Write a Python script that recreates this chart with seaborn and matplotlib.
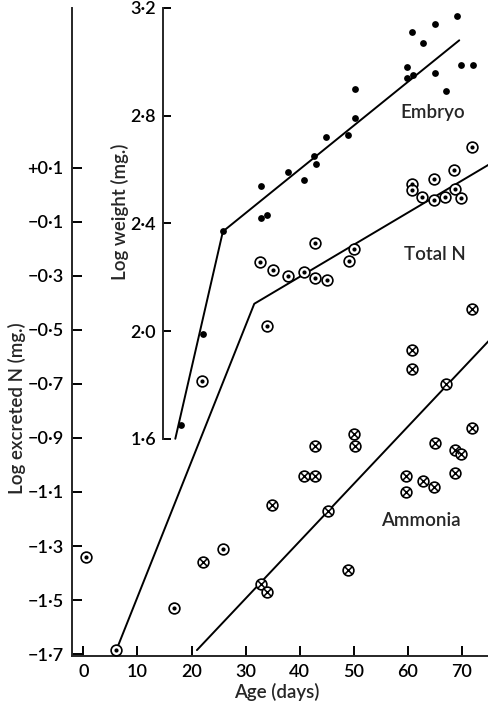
import matplotlib
matplotlib.use("Agg")
import matplotlib.pyplot as plt
import seaborn as sns
import pandas as pd

# ---------------- data ----------------
embryo_age = [18.0, 22.1, 25.8, 32.9, 32.9, 33.9, 37.8, 40.8, 42.7, 43.0, 44.8, 48.9,
              50.2, 50.2, 59.9, 59.9, 60.9, 60.7, 62.8, 65.0, 65.0, 67.1, 69.0, 69.9, 72.0]
embryo_logw = [1.65, 1.99, 2.37, 2.54, 2.42, 2.43, 2.59, 2.56, 2.65, 2.62, 2.72, 2.73,
               2.79, 2.90, 2.98, 2.94, 2.95, 3.11, 3.07, 3.14, 2.96, 2.89, 3.17, 2.99, 2.99]

totaln_age = [0.5, 6.1, 16.7, 21.9, 25.9, 32.7, 33.9, 35.1, 37.9, 40.8, 42.9, 42.9, 45.0,
              49.1, 50.0, 60.7, 60.7, 62.7, 64.8, 64.9, 66.9, 68.6, 68.8, 69.8, 71.8]
totaln_logn = [-1.34, -1.685, -1.53, -0.69, -1.31, -0.25, -0.485, -0.28, -0.30, -0.285,
               -0.18, -0.31, -0.315, -0.245, -0.20, 0.04, 0.016, -0.009, 0.059, -0.021,
               -0.009, 0.089, 0.019, -0.014, 0.175]

ammonia_age = [22.2, 32.9, 33.9, 34.9, 40.8, 42.9, 42.9, 45.3, 48.9, 50.1, 50.3, 59.7,
               59.7, 60.8, 60.8, 62.8, 64.8, 65.0, 67.1, 68.7, 68.8, 69.9, 71.8, 71.8]
ammonia_logn = [-1.36, -1.44, -1.47, -1.15, -1.04, -1.04, -0.93, -1.17, -1.39, -0.885,
                -0.93, -1.04, -1.10, -0.575, -0.645, -1.06, -1.08, -0.92, -0.70, -0.945,
                -1.03, -0.96, -0.425, -0.865]

# fitted lines (knots)
embryo_line_age = [17.0, 25.8, 69.5]
embryo_line_logw = [1.60, 2.37, 3.08]
totaln_line_age = [6.1, 31.6, 76.0]
totaln_line_logn = [-1.685, -0.404, 0.123]
ammonia_line_age = [21.0, 76.0]
ammonia_line_logn = [-1.685, -0.519]

# ticks
n_ticks = [0.1, -0.1, -0.3, -0.5, -0.7, -0.9, -1.1, -1.3, -1.5, -1.7]
n_tick_labels = ["+0·1", "−0·1", "−0·3", "−0·5", "−0·7", "−0·9", "−1·1", "−1·3", "−1·5", "−1·7"]
w_ticks = [1.6, 2.0, 2.4, 2.8, 3.2]
w_tick_labels = ["1·6", "2·0", "2·4", "2·8", "3·2"]
age_ticks = [0, 10, 20, 30, 40, 50, 60, 70]
age_tick_labels = ["0", "10", "20", "30", "40", "50", "60", "70"]

# ---------------- style ----------------
sns.set_style("ticks")
plt.rcParams["font.family"] = ["Lato", "DejaVu Sans"]
plt.rcParams["font.weight"] = "semibold"
plt.rcParams["axes.linewidth"] = 1.4
FS = 13
FL = 13.5

fig = plt.figure(figsize=(4.89, 7.05), dpi=100)
ax = fig.add_axes([72 / 489, 1 - 655.5 / 705, 1 - 72 / 489, (655.5 - 8) / 705])
ax.set_xlim(-2.1, 75.0)
ax.set_ylim(-1.705, 0.69)

W_OFFSET = 2.5
ax2 = ax.twinx()
ax2.set_ylim(-1.705 + W_OFFSET, 0.69 + W_OFFSET)

# lines
sns.lineplot(x=totaln_line_age, y=totaln_line_logn, sort=False, estimator=None,
             color="black", lw=1.4, ax=ax, zorder=1)
sns.lineplot(x=ammonia_line_age, y=ammonia_line_logn, sort=False, estimator=None,
             color="black", lw=1.4, ax=ax, zorder=1)
sns.lineplot(x=embryo_line_age, y=embryo_line_logw, sort=False, estimator=None,
             color="black", lw=1.4, ax=ax2, zorder=1)

# Total N markers: circle with central dot
sns.scatterplot(x=totaln_age, y=totaln_logn, marker="o", s=60, color="white",
                edgecolor="black", linewidth=1.2, ax=ax, zorder=3)
sns.scatterplot(x=totaln_age, y=totaln_logn, marker="o", s=9, color="black",
                linewidth=0, ax=ax, zorder=4)
# Ammonia markers: circle with cross
sns.scatterplot(x=ammonia_age, y=ammonia_logn, marker="o", s=60, color="white",
                edgecolor="black", linewidth=1.2, ax=ax, zorder=3)
sns.scatterplot(x=ammonia_age, y=ammonia_logn, marker="x", s=30, color="black",
                linewidth=1.1, ax=ax, zorder=4)
# Embryo markers: filled dots
sns.scatterplot(x=embryo_age, y=embryo_logw, marker="o", s=24, color="black",
                linewidth=0, ax=ax2, zorder=3)

# main axes styling
for s in ("top", "right"):
    ax.spines[s].set_visible(False)
ax.set_yticks(n_ticks)
ax.set_yticklabels(n_tick_labels, fontsize=FS)
ax.set_xticks(age_ticks)
ax.set_xticklabels(age_tick_labels, fontsize=FS)
ax.tick_params(axis="both", direction="in", length=7, width=1.4, pad=6, colors="black")
ax.set_xlabel("")
ax.set_ylabel("")

# inner weight axis
for s in ("top", "right", "bottom"):
    ax2.spines[s].set_visible(False)
ax2.spines["left"].set_visible(True)
ax2.spines["left"].set_position(("data", 14.7))
ax2.spines["left"].set_bounds(1.6, 3.2)
ax2.spines["left"].set_linewidth(1.4)
ax2.yaxis.set_ticks_position("left")
ax2.set_yticks(w_ticks)
ax2.set_yticklabels(w_tick_labels, fontsize=FS)
ax2.tick_params(axis="y", direction="in", length=6, width=1.4, pad=5, colors="black")
ax2.set_ylabel("")

# labels
fig.text(17 / 489, 1 - 408 / 705, "Log excreted N (mg.)", rotation=90,
         ha="center", va="center", fontsize=FL)
fig.text(120 / 489, 1 - 212 / 705, "Log weight (mg.)", rotation=90,
         ha="center", va="center", fontsize=FL)
fig.text(277 / 489, 1 - 692 / 705, "Age (days)", ha="center", va="center", fontsize=FL)

ax.text(64.6, 0.304, "Embryo", ha="center", va="center", fontsize=FL)
ax.text(65.0, -0.222, "Total N", ha="center", va="center", fontsize=FL)
ax.text(62.4, -1.204, "Ammonia", ha="center", va="center", fontsize=FL)

fig.savefig("out.png", dpi=100)
